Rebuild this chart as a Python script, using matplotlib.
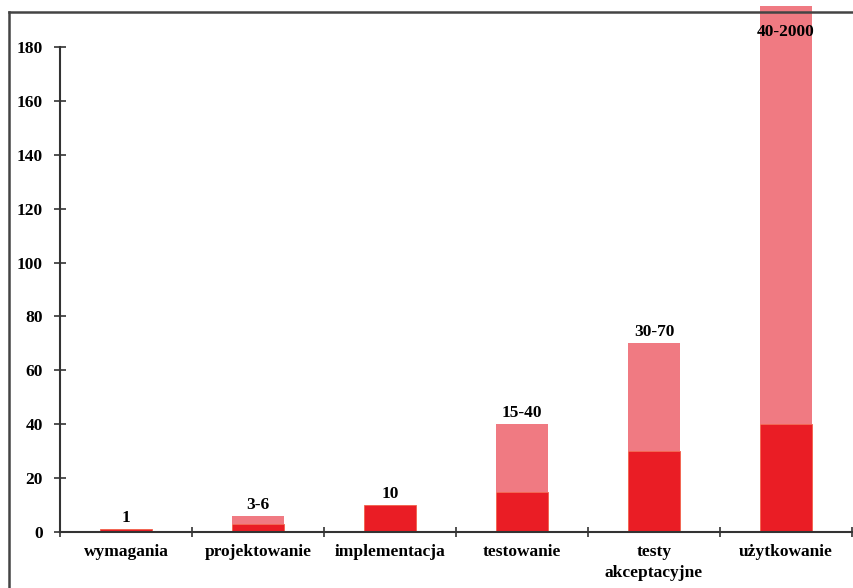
import numpy as np
import matplotlib
matplotlib.use('Agg')
import matplotlib.pyplot as plt
from matplotlib.lines import Line2D

phases = ['wymagania', 'projektowanie', 'implementacja', 'testowanie', 'testy\nakceptacyjne', 'użytkowanie']
lowCost = [1, 3, 10, 15, 30, 40]
highCost = [1, 6, 10, 40, 70, 2000]
costLabels = ['1', '3-6', '10', '15-40', '30-70', '40-2000']

yTop = 195.2
barWidth = 0.4
redColor = '#EA1D25'
pinkColor = '#F07A82'
fontSize = 12.5

plt.rcParams['font.family'] = ['Liberation Serif', 'DejaVu Serif']
plt.rcParams['font.weight'] = 'bold'

figure = plt.figure(figsize=(8.54, 5.88), dpi=100)
axis = figure.add_axes([60 / 854, 1 - 532 / 588, 792 / 854, 526 / 588])

locations = np.arange(len(phases))
low = np.array(lowCost)
high = np.array(highCost)

axis.bar(locations, low, barWidth, color=redColor, edgecolor='#F2604A', linewidth=0.6, zorder=2)
axis.bar(locations, high - low, barWidth, bottom=low, color=pinkColor, zorder=2)

for x, top, label in zip(locations, high, costLabels):
    if top > yTop - 10:
        # value runs off the scale, so the label goes inside the bar
        axis.text(x, 182.5, label, ha='center', va='bottom', fontsize=fontSize, fontweight='bold', zorder=3)
    else:
        axis.text(x, top + 1.2, label, ha='center', va='bottom', fontsize=fontSize, fontweight='bold', zorder=3)

axis.set_xlim(-0.5, len(phases) - 0.5)
axis.set_ylim(0, yTop)
axis.set_yticks(np.arange(0, 181, 20))
axis.set_xticks(np.arange(-0.5, len(phases), 1))
axis.set_xticklabels([])
axis.set_xticks(locations, minor=True)
axis.set_xticklabels(phases, minor=True, linespacing=1.35)
axis.tick_params(axis='x', which='minor', length=0, pad=9, labelsize=fontSize)
axis.tick_params(axis='x', which='major', direction='inout', length=7, width=1.2, color='#333333')
axis.tick_params(axis='y', direction='inout', length=9, width=1.2, color='#333333', labelsize=fontSize, pad=8)

for label in axis.get_xticklabels(minor=True) + axis.get_yticklabels():
    label.set_fontweight('bold')

axis.spines['top'].set_visible(False)
axis.spines['right'].set_visible(False)
axis.spines['left'].set_bounds(0, 180)
axis.spines['left'].set_linewidth(1.5)
axis.spines['bottom'].set_linewidth(1.5)
axis.spines['left'].set_color('#333333')
axis.spines['bottom'].set_color('#333333')
axis.patch.set_alpha(0)

# outer frame around the chart area
figure.add_artist(Line2D([9 / 854, 9 / 854], [0, 1 - 12 / 588], color='#444444', lw=1.8, zorder=10))
figure.add_artist(Line2D([9 / 854, 1], [1 - 12 / 588, 1 - 12 / 588], color='#444444', lw=1.8, zorder=10))

figure.savefig('out.png', dpi=100)
